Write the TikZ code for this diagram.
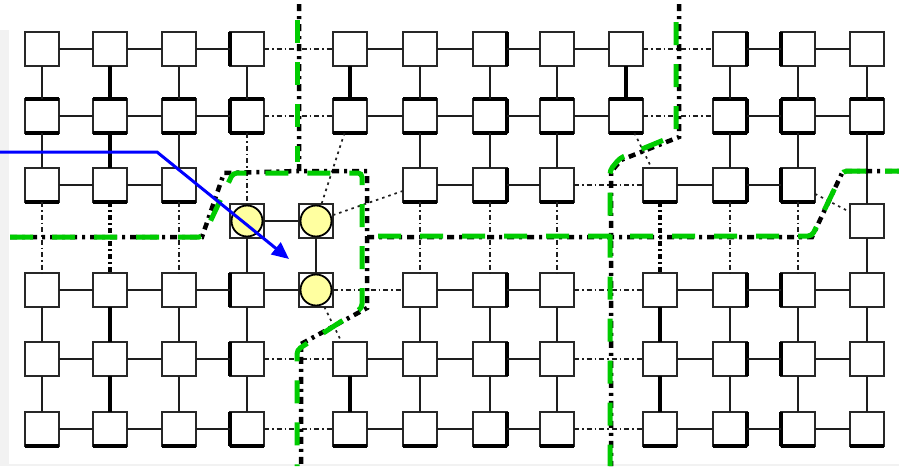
\documentclass[tikz,border=0pt]{standalone}
\usetikzlibrary{arrows.meta}
\definecolor{gbound}{RGB}{0,204,0}
\definecolor{yel}{RGB}{255,255,160}
\definecolor{edgec}{RGB}{30,30,30}
\definecolor{sqc}{RGB}{40,40,40}
\begin{document}
\begin{tikzpicture}[x=1pt,y=-1pt,
  sq/.style={draw=sqc,fill=white,line width=1.5pt,minimum size=34pt,inner sep=0pt,outer sep=0pt,rectangle},
  ybub/.style={draw=black,fill=yel,line width=1.8pt,circle,minimum size=31pt,inner sep=0pt},
  side/.style={draw=black,line width=3.4pt},
  e/.style={draw=edgec,line width=1.4pt},
  emid/.style={draw=edgec,line width=2.1pt},
  ethick/.style={draw=black,line width=3.2pt},
  edd/.style={draw=edgec,line width=1.7pt,dash pattern=on 5pt off 3pt on 1.5pt off 3pt},
  eddthick/.style={draw=black,line width=3.2pt,dash pattern=on 5pt off 3pt on 2pt off 3pt},
  edot/.style={draw=edgec,line width=1.7pt,dash pattern=on 2.5pt off 4pt},
  bblk/.style={draw=black,line width=4.5pt,dash pattern=on 7pt off 5pt on 3pt off 5pt},
  bgrn/.style={draw=gbound,line width=5pt,dash pattern=on 23pt off 19pt,rounded corners=4pt},
  barrow/.style={draw=blue,line width=3pt,-{Triangle[length=17pt,width=15pt]}}
]
\useasboundingbox (0,0) rectangle (899,466);
\fill[white] (0,0) rectangle (899,466);
\fill[black!5] (0,30) rectangle (9,466);
\fill[black!5] (0,464) rectangle (899,466);

% ---------- nodes ----------
\foreach \r/\y in {1/49,2/116}
  \foreach \c/\x in {1/42,2/110,3/179,4/247,5/350,6/420,7/490,8/557,9/626,10/730,11/798,12/867}
    \node[sq] (n\c-\r) at (\x,\y) {};
\foreach \c/\x/\y in {1/42/185,2/110/185,3/179/185,4/247/221,5/316/221,6/420/185,7/490/185,8/557/185,9/660/185,10/730/185,11/798/185,12/867/221}
  \node[sq] (n\c-3) at (\x,\y) {};
\foreach \c/\x in {1/42,2/110,3/179,4/247,5/316,6/420,7/490,8/557,9/660,10/730,11/798,12/867}
  \node[sq] (n\c-4) at (\x,290) {};
\foreach \r/\y in {5/359,6/429}
  \foreach \c/\x in {1/42,2/110,3/179,4/247,5/350,6/420,7/490,8/557,9/660,10/730,11/798,12/867}
    \node[sq] (n\c-\r) at (\x,\y) {};

% thick sides of squares
\foreach \c in {1,...,12} {
  \draw[side] (n\c-2.north west) -- (n\c-2.north east);
  \draw[side] (n\c-2.south west) -- (n\c-2.south east);
  \draw[side] (n\c-6.south west) -- (n\c-6.south east);
}
\foreach \c in {1,2,3,6,7,8,9,10,11}
  \draw[side] (n\c-3.south west) -- (n\c-3.south east);
\foreach \r in {1,2,4,5,6}
  \draw[side] (n4-\r.north west) -- (n4-\r.south west);
\foreach \r in {1,...,6} {
  \draw[side] (n7-\r.north east) -- (n7-\r.south east);
  \draw[side] (n10-\r.north east) -- (n10-\r.south east);
  \draw[side] (n11-\r.north west) -- (n11-\r.south west);
}

% ---------- horizontal edges ----------
\foreach \r in {1,2} {
  \foreach \a/\b in {1/2,2/3,3/4,5/6,6/7,7/8,8/9,10/11,11/12}
    \draw[e] (n\a-\r) -- (n\b-\r);
  \draw[edd] (n4-\r) -- (n5-\r);
  \draw[edd] (n9-\r) -- (n10-\r);
}
\foreach \a/\b in {1/2,2/3,4/5,6/7,7/8,9/10,10/11}
  \draw[e] (n\a-3) -- (n\b-3);
\draw[edot] (n5-3) -- (n6-3);
\draw[edot] (n11-3) -- (n12-3);
\draw[edd] (n8-3) -- (n9-3);
\foreach \a/\b in {1/2,2/3,3/4,4/5,6/7,7/8,9/10,10/11,11/12}
  \draw[emid] (n\a-4) -- (n\b-4);
\draw[edd] (n5-4) -- (n6-4);
\draw[edd] (n8-4) -- (n9-4);
\foreach \r in {5,6} {
  \foreach \a/\b in {1/2,2/3,3/4,5/6,6/7,7/8,9/10,10/11,11/12}
    \draw[e] (n\a-\r) -- (n\b-\r);
  \draw[edd] (n4-\r) -- (n5-\r);
  \draw[edd] (n8-\r) -- (n9-\r);
}

% ---------- vertical edges ----------
\foreach \c in {1,3,4,6,7,8,10,11,12} \draw[e] (n\c-1) -- (n\c-2);
\foreach \c in {2,5,9} \draw[ethick] (n\c-1) -- (n\c-2);
\foreach \c in {1,3,6,7,8,10,11,12} \draw[e] (n\c-2) -- (n\c-3);
\draw[ethick] (n2-2) -- (n2-3);
\draw[edd] (n4-2) -- (n4-3);
\draw[edot] (n5-2) -- (n5-3);
\draw[edot] (n9-2) -- (n9-3);
\foreach \c in {1,3,6,7,8,10,11} \draw[edd] (n\c-3) -- (n\c-4);
\foreach \c in {2,9} \draw[eddthick] (n\c-3) -- (n\c-4);
\foreach \c in {4,5,12} \draw[e] (n\c-3) -- (n\c-4);
\foreach \c in {1,3,4,6,7,8,10,11,12} \draw[e] (n\c-4) -- (n\c-5);
\foreach \c in {2,9} \draw[ethick] (n\c-4) -- (n\c-5);
\draw[edot] (n5-4) -- (n5-5);
\foreach \c in {1,3,4,6,7,8,10,11,12} \draw[e] (n\c-5) -- (n\c-6);
\foreach \c in {2,5,9} \draw[ethick] (n\c-5) -- (n\c-6);

% ---------- highlighted nodes ----------
\node[ybub] (y1) at (n4-3) {};
\node[ybub] (y2) at (n5-3) {};
\node[ybub] (y3) at (n5-4) {};

% ---------- partition boundaries ----------
\draw[bblk] (299,4) -- (299,171) -- (367,171) -- (367,308) -- (301,344) -- (301,466);
\draw[bblk] (10,237) -- (202,237) -- (224,173) -- (299,171);
\draw[bblk] (367,237) -- (812,237) -- (843,171) -- (899,171);
\draw[bblk] (679,4) -- (679,137) -- (621,160) -- (611,172) -- (611,466);

\draw[bgrn] (297,20) -- (297,162);
\draw[bgrn] (10,237) -- (203,237) -- (233,173) -- (362,173) -- (362,308) -- (297,350) -- (297,466);
\draw[bgrn] (378,236) -- (812,236) -- (843,171) -- (899,171);
\draw[bgrn] (676,22) -- (676,135) -- (620,158) -- (610,170) -- (610,466);

% ---------- arrow ----------
\coordinate (bs) at (0,152);
\coordinate (bm) at (157,152);
\coordinate (be) at (289,259);
\draw[barrow] (bs) -- (bm) -- (be);
\end{tikzpicture}
\end{document}
